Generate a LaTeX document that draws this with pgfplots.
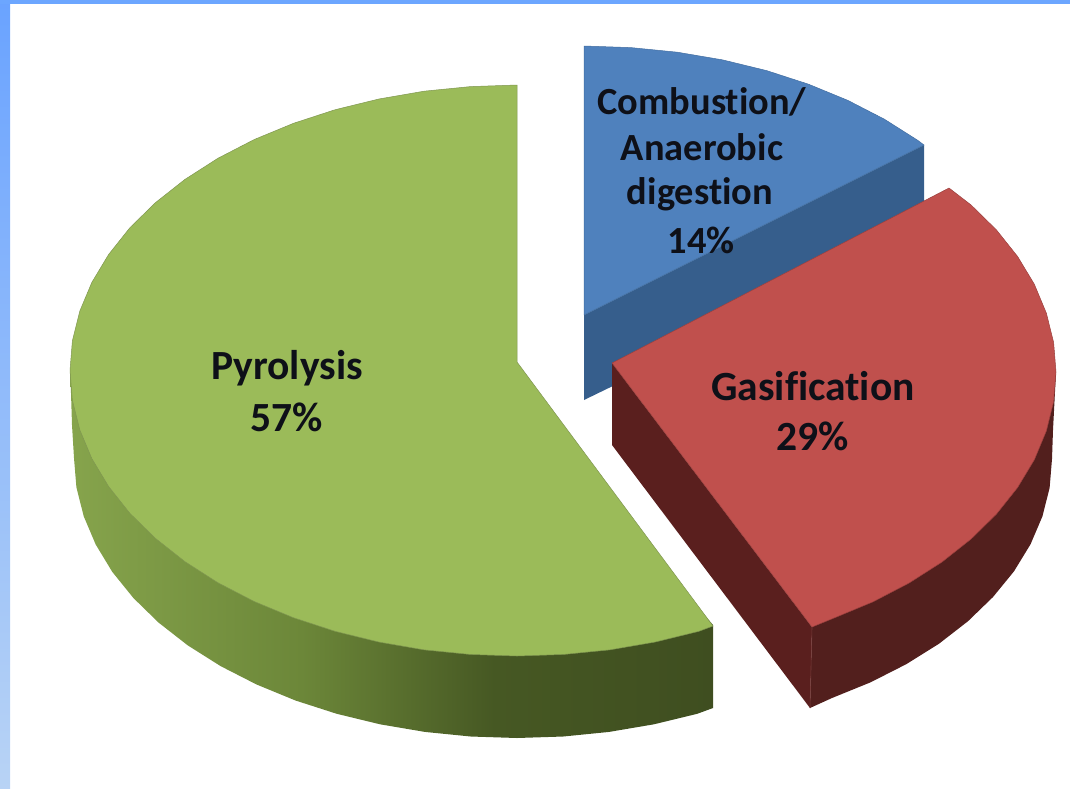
\documentclass[border=0pt]{standalone}
\usepackage{pgfplots}
\usepackage{fontspec}
\setmainfont[Ligatures=NoCommon]{Carlito}
\pgfplotsset{compat=1.18}
\definecolor{gtop}{HTML}{9BBB59}
\definecolor{gline}{HTML}{7F9650}
\definecolor{btop}{HTML}{4F81BD}
\definecolor{bside}{HTML}{365E8C}
\definecolor{rtop}{HTML}{C0504D}
\definecolor{rside}{HTML}{521F1D}
\definecolor{rleft}{HTML}{5A1F1E}
\definecolor{ga}{HTML}{86A44C}
\definecolor{gb}{HTML}{6C8739}
\definecolor{gc}{HTML}{465823}
\definecolor{gd}{HTML}{3F4E20}
\definecolor{txt}{HTML}{0E1018}
\definecolor{fa}{RGB}{106,163,255}
\definecolor{fb}{RGB}{184,211,245}
\definecolor{fc}{RGB}{108,166,255}
\pgfdeclarehorizontalshading{greenside}{100bp}{color(0bp)=(ga); color(25bp)=(ga); color(43bp)=(gb); color(58bp)=(gc); color(75bp)=(gd); color(100bp)=(gd)}
\begin{document}
\begin{tikzpicture}
\begin{axis}[scale only axis, width=1070pt, height=788pt, xmin=0, xmax=1070, ymin=0, ymax=788, y dir=reverse, hide axis, clip=true]
% frame
\addplot[draw=none, top color=fa, bottom color=fb] coordinates {(0,0)(10,0)(10,788)(0,788)} -- cycle;
\addplot[draw=none, fill=fc] coordinates {(0,0)(1070,0)(1070,4)(0,4)} -- cycle;
% blue: 14
\addplot[draw=none, fill=bside] coordinates {(584,315)(924,145)(924,235)(584,400)} -- cycle;
\addplot[fill=btop, draw=btop!85!black, line width=0.5pt, line join=round] coordinates {(584,315)(584,46)(630.9,47.6)(677.3,52.2)(722.7,59.9)(766.6,70.6)(808.5,84.2)(847.9,100.4)(884.4,119.2)(917.7,140.3)(924,145)} -- cycle;
% green: 57
\addplot[draw=none, shade, shading=greenside] coordinates {(713,625)(713,708)(697.2,713.8)(653.9,724.3)(609.1,731.9)(563.3,736.5)(517,738)(470.7,736.5)(424.9,731.9)(380.1,724.3)(336.8,713.8)(295.5,700.5)(256.6,684.5)(220.6,666.1)(187.8,645.4)(158.6,622.6)(133.4,598)(112.3,571.9)(95.7,544.5)(83.7,516.2)(76.4,487.3)(74,458)(72,425)(71,393)(70,371)(517,400)} -- cycle;
\addplot[fill=gtop, draw=gline, line width=0.5pt, line join=round] coordinates {(517,362)(517,85)(470.3,86.6)(424.1,91.2)(378.9,99)(335.2,109.7)(293.5,123.3)(254.3,139.5)(217.9,158.3)(184.8,179.5)(155.4,202.7)(129.9,227.7)(108.7,254.4)(91.9,282.3)(79.8,311.1)(72.4,340.7)(70,370.5)(72.4,400.3)(79.8,429.9)(91.9,458.7)(108.7,486.6)(129.9,513.3)(155.4,538.3)(184.8,561.5)(217.9,582.7)(254.3,601.5)(293.5,617.7)(335.2,631.3)(378.9,642)(424.1,649.8)(470.3,654.4)(517,656)(563.7,654.4)(609.9,649.8)(655.1,642)(698.8,631.3)(713,626)} -- cycle;
% red: 29
\addplot[draw=none, fill=rleft] coordinates {(612,363)(612,445)(810,708)(812,627)} -- cycle;
\addplot[fill=rside, draw=none] coordinates {(812,627)(810,708)(832,698)(870.6,682.3)(906.4,664.1)(939,643.7)(968,621.2)(993,597)(1014,571.3)(1030.5,544.3)(1042.4,516.4)(1049.6,487.9)(1052,459)(1053,430)(1056,372)(1000,400)} -- cycle;
\addplot[draw={rgb,255:red,120;green,60;blue,58}, line width=0.6pt] coordinates {(812,627)(810,708)};
\addplot[fill=rtop, draw=rtop!80!black, line width=0.5pt, line join=round] coordinates {(612,363)(949,188)(971.2,205.1)(996.5,230)(1017.6,256.5)(1034.3,284.2)(1046.3,313)(1053.6,342.3)(1056,372)(1053.6,401.7)(1046.3,431)(1034.3,459.8)(1017.6,487.5)(996.5,514)(971.2,538.9)(942,562)(909.1,583)(873,601.8)(834,618)(812,627)} -- cycle;
% labels
\node[font=\fontsize{41.5}{41.5}\selectfont\bfseries, text=txt] at (axis cs:287,368) {Pyrolysis};
\node[font=\fontsize{41.5}{41.5}\selectfont\bfseries, text=txt] at (axis cs:287,417) {57\%};
\node[font=\fontsize{41.5}{41.5}\selectfont\bfseries, text=txt] at (axis cs:813,386) {Gasification};
\node[font=\fontsize{41.5}{41.5}\selectfont\bfseries, text=txt] at (axis cs:813,436) {29\%};
\node[font=\fontsize{38.4}{38.4}\selectfont\bfseries, text=txt] at (axis cs:702,102) {Combustion/};
\node[font=\fontsize{38.4}{38.4}\selectfont\bfseries, text=txt] at (axis cs:702,147) {Anaerobic};
\node[font=\fontsize{38.4}{38.4}\selectfont\bfseries, text=txt] at (axis cs:700,194) {digestion};
\node[font=\fontsize{38.4}{38.4}\selectfont\bfseries, text=txt] at (axis cs:701,240) {14\%};
\end{axis}
\end{tikzpicture}
\end{document}
